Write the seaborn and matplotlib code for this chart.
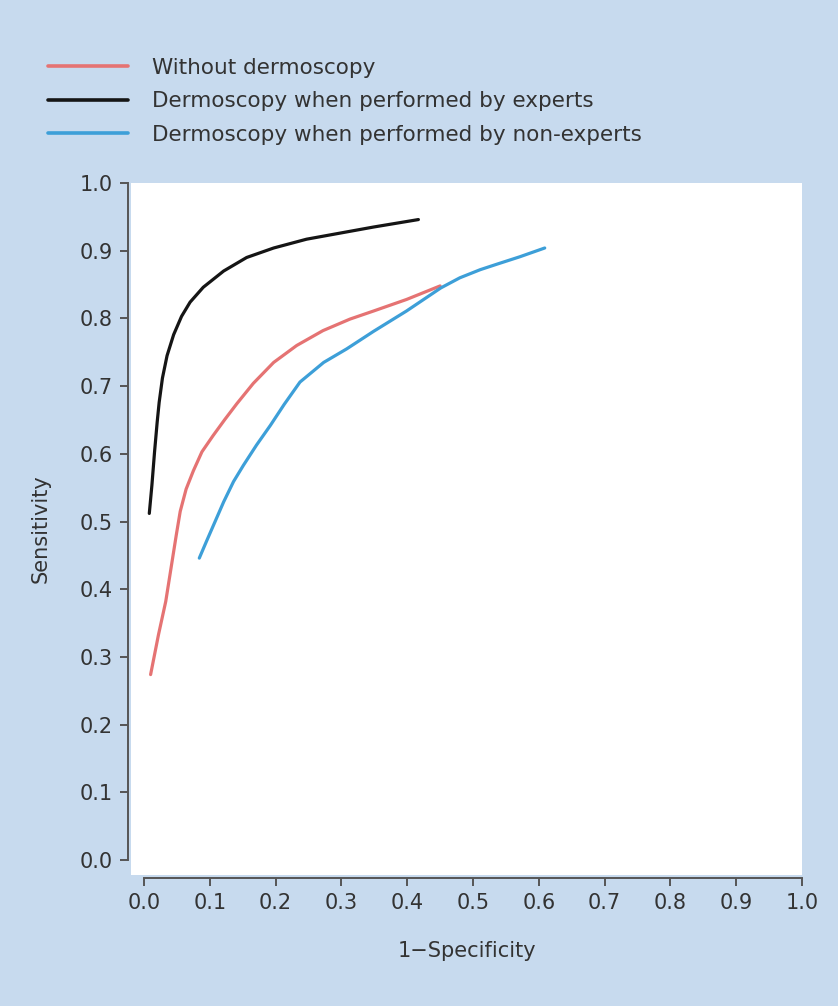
import matplotlib
matplotlib.use("Agg")
import matplotlib.pyplot as plt
import pandas as pd
import seaborn as sns

sns.set_theme(style="ticks")
plt.rcParams["font.family"] = ["DejaVu Sans"]

# ROC curves
without_x = [0.010, 0.022, 0.033, 0.041, 0.049, 0.055, 0.064, 0.075, 0.088, 0.105,
             0.123, 0.141, 0.166, 0.197, 0.232, 0.272, 0.313, 0.349, 0.399, 0.450]
without_y = [0.274, 0.333, 0.382, 0.431, 0.480, 0.515, 0.548, 0.575, 0.603, 0.627,
             0.651, 0.674, 0.704, 0.735, 0.760, 0.782, 0.799, 0.811, 0.828, 0.848]

experts_x = [0.008, 0.012, 0.016, 0.020, 0.023, 0.028, 0.035, 0.045, 0.057, 0.070,
             0.090, 0.121, 0.156, 0.197, 0.247, 0.298, 0.349, 0.417]
experts_y = [0.512, 0.554, 0.603, 0.647, 0.676, 0.712, 0.745, 0.776, 0.803, 0.824,
             0.846, 0.870, 0.890, 0.904, 0.917, 0.926, 0.935, 0.946]

nonexp_x = [0.084, 0.095, 0.108, 0.121, 0.136, 0.151, 0.171, 0.192, 0.213, 0.237,
            0.273, 0.308, 0.349, 0.399, 0.451, 0.480, 0.511, 0.536, 0.571, 0.609]
nonexp_y = [0.446, 0.471, 0.500, 0.529, 0.559, 0.583, 0.613, 0.642, 0.673, 0.706,
            0.735, 0.755, 0.781, 0.811, 0.845, 0.860, 0.872, 0.880, 0.891, 0.904]

labels = ["Without dermoscopy",
          "Dermoscopy when performed by experts",
          "Dermoscopy when performed by non-experts"]
colors = ["#e57373", "#151515", "#3d9fd8"]
ticks = [0.0, 0.1, 0.2, 0.3, 0.4, 0.5, 0.6, 0.7, 0.8, 0.9, 1.0]

df = pd.concat([
    pd.DataFrame({"x": without_x, "y": without_y, "series": labels[0]}),
    pd.DataFrame({"x": experts_x, "y": experts_y, "series": labels[1]}),
    pd.DataFrame({"x": nonexp_x, "y": nonexp_y, "series": labels[2]}),
])

bg = "#c7daee"
text_col = "#333333"
axis_col = "#555555"

fig = plt.figure(figsize=(8.38, 10.06), dpi=100, facecolor=bg)
ax = fig.add_axes([131 / 838, 1 - 875 / 1006, (802 - 131) / 838, (875 - 183) / 1006])
ax.set_facecolor("white")

sns.lineplot(data=df, x="x", y="y", hue="series", hue_order=labels,
             palette=dict(zip(labels, colors)), sort=False, estimator=None,
             linewidth=2.3, solid_joinstyle="round", solid_capstyle="round", ax=ax)

ax.set_xlim(-0.0198, 1.0)
ax.set_ylim(-0.022, 1.0)
ax.set_xticks(ticks)
ax.set_yticks(ticks)
ax.set_xticklabels([f"{t:.1f}" for t in ticks])
ax.set_yticklabels([f"{t:.1f}" for t in ticks])

for side in ["top", "right"]:
    ax.spines[side].set_visible(False)
ax.spines["left"].set_bounds(0, 1)
ax.spines["bottom"].set_bounds(0, 1)
ax.spines["left"].set_position(("outward", 2))
ax.spines["bottom"].set_position(("outward", 2))
for side in ["left", "bottom"]:
    ax.spines[side].set_color(axis_col)
    ax.spines[side].set_linewidth(1.4)

ax.tick_params(axis="both", colors=axis_col, labelcolor=text_col, labelsize=15,
               length=6, width=1.4, direction="out", pad=5)

ax.set_xlabel("1\u2212Specificity", fontsize=15, color=text_col, labelpad=20)
ax.set_ylabel("Sensitivity", fontsize=15, color=text_col, labelpad=21)

leg = ax.legend(loc="upper left", bbox_to_anchor=(48 / 838, 1 - 58 / 1006),
                bbox_transform=fig.transFigure, frameon=False, fontsize=15.5,
                handlelength=3.7, handletextpad=1.15, labelspacing=0.62,
                borderpad=0, borderaxespad=0)
for t in leg.get_texts():
    t.set_color(text_col)
for h in leg.get_lines():
    h.set_linewidth(2.6)

fig.savefig("out.png", dpi=100, facecolor=bg)
